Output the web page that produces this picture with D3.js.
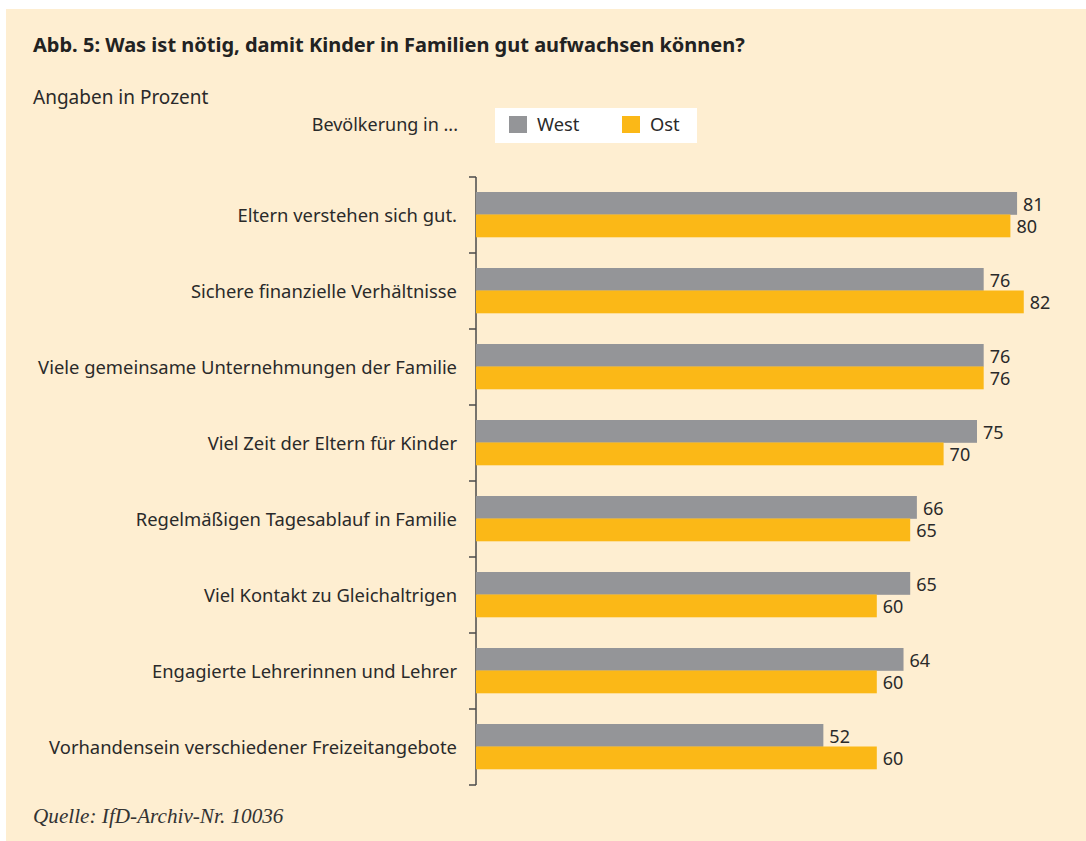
<!DOCTYPE html>
<html><head><meta charset="utf-8">
<script src="https://cdn.jsdelivr.net/npm/d3@7"></script>
<style>
html,body{margin:0;padding:0;background:#fff;}
svg{display:block;}
</style></head>
<body>
<svg id="c" width="1086" height="841"></svg>
<script>
const categories = [
  "Eltern verstehen sich gut.",
  "Sichere finanzielle Verhältnisse",
  "Viele gemeinsame Unternehmungen der Familie",
  "Viel Zeit der Eltern für Kinder",
  "Regelmäßigen Tagesablauf in Familie",
  "Viel Kontakt zu Gleichaltrigen",
  "Engagierte Lehrerinnen und Lehrer",
  "Vorhandensein verschiedener Freizeitangebote"
];
const west = [81, 76, 76, 75, 66, 65, 64, 52];
const ost  = [80, 82, 76, 70, 65, 60, 60, 60];
const seriesNames = ["West", "Ost"];
const seriesColors = ["#949598", "#fbb817"];
const title = "Abb. 5: Was ist nötig, damit Kinder in Familien gut aufwachsen können?";
const subtitle = "Angaben in Prozent";
const legendTitle = "Bevölkerung in ...";
const source = "Quelle: IfD-Archiv-Nr. 10036";

const SANS = "'Noto Sans',sans-serif";
const svg = d3.select("#c");
svg.append("rect").attr("x",6).attr("y",9).attr("width",1080).attr("height",832).attr("fill","#feeed1");

function txt(x, y, s, size, opts={}) {
  const t = svg.append("text").attr("x",x).attr("y",y).text(s)
    .style("font-family", opts.family || SANS).style("font-size", size+"px")
    .style("fill", opts.fill || "#2a2a2a");
  if (opts.weight) t.style("font-weight", opts.weight);
  if (opts.italic) t.style("font-style","italic");
  if (opts.anchor) t.attr("text-anchor", opts.anchor);
  if (opts.dy) t.attr("dy", opts.dy);
  return t;
}

txt(33, 52, title, 20, {weight:"bold", fill:"#222"});
txt(33, 104, subtitle, 19);
txt(458, 131, legendTitle, 18, {anchor:"end"});

// legend
svg.append("rect").attr("x",495).attr("y",108).attr("width",202).attr("height",35).attr("fill","#fff");
const lx = [509, 622];
seriesNames.forEach((n,i)=>{
  svg.append("rect").attr("x",lx[i]).attr("y",116).attr("width",18).attr("height",17).attr("fill",seriesColors[i]);
  txt(lx[i]+28, 131, n, 18.3);
});

const x = d3.scaleLinear().domain([0,100]).range([476, 476+668]);
const y = d3.scaleBand().domain(categories).range([177, 785]).paddingInner(0).paddingOuter(0);
const inner = d3.scaleBand().domain(seriesNames).range([0, 45]);
const bandOffset = (y.bandwidth()-45)/2 - 0.5;

// axis
const axisG = svg.append("g");
axisG.append("line").attr("x1",x(0)).attr("x2",x(0)).attr("y1",177).attr("y2",785).attr("stroke","#4a4a4a").attr("stroke-width",1.5);
const tickVals = categories.map(c=>y(c)).concat([y.range()[1]]);
axisG.selectAll("line.tick").data(tickVals).enter().append("line").attr("class","tick")
  .attr("x1",x(0)-7).attr("x2",x(0)).attr("y1",d=>d).attr("y2",d=>d).attr("stroke","#4a4a4a").attr("stroke-width",1.5);

const rows = categories.map((c,i)=>({c, vals:[west[i], ost[i]]}));
const g = svg.append("g");
rows.forEach(r=>{
  const top = y(r.c)+bandOffset;
  txt(457, top+22.5+1, r.c, 18.4, {anchor:"end", dy:"0.35em"});
  r.vals.forEach((v,j)=>{
    const yy = top + inner(seriesNames[j]);
    g.append("rect").attr("x",x(0)).attr("y",yy).attr("width",x(v)-x(0)).attr("height",inner.bandwidth()+0.3)
      .attr("fill",seriesColors[j]);
    txt(x(v)+6, yy+inner.bandwidth()/2+1, v, 18, {dy:"0.35em"});
  });
});

txt(33, 823, source, 21.2, {italic:true, family:"'Liberation Serif','DejaVu Serif',serif", fill:"#333"});
</script>
</body></html>
